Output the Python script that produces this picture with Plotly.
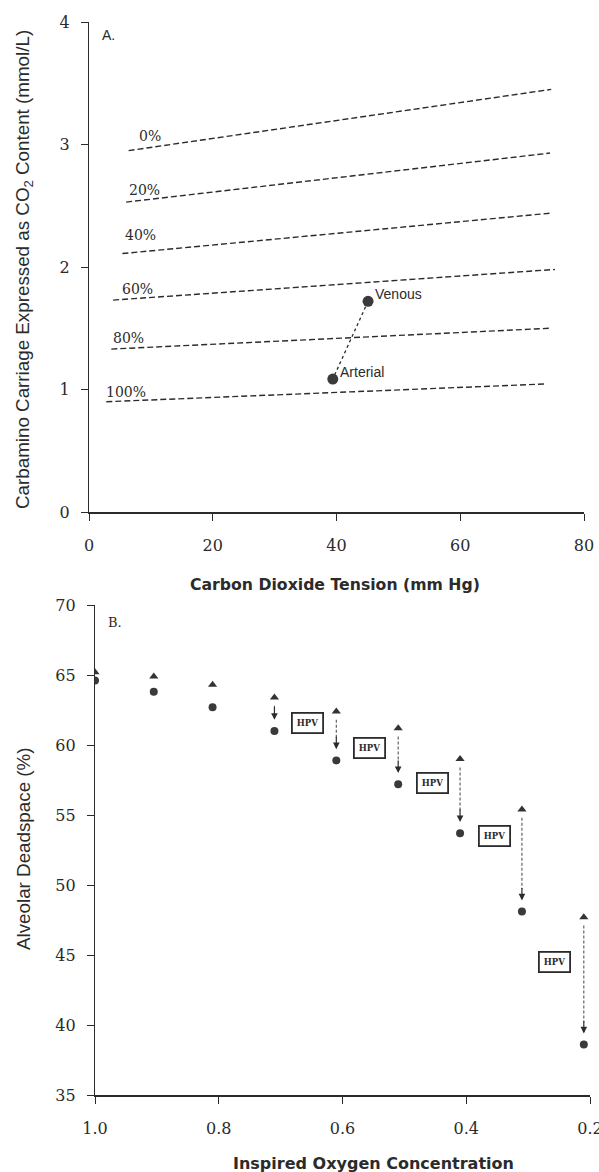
import plotly.graph_objects as go

# ---------------- Panel A data ----------------
sat_labels = ["0%", "20%", "40%", "60%", "80%", "100%"]
line_x_start = [6.4, 6.0, 5.4, 3.9, 3.6, 2.8]
line_x_end = [74.7, 74.5, 74.7, 75.3, 74.5, 73.7]
line_y_start = [2.95, 2.53, 2.11, 1.73, 1.33, 0.90]
line_y_end = [3.45, 2.93, 2.44, 1.98, 1.50, 1.045]
label_x = [9.8, 9.0, 8.3, 7.8, 6.4, 5.9]
label_y = [3.07, 2.63, 2.26, 1.82, 1.42, 0.98]

blood_names = ["Venous", "Arterial"]
blood_pco2 = [45.1, 39.4]
blood_content = [1.72, 1.085]

# ---------------- Panel B data ----------------
fio2 = [1.0, 0.905, 0.81, 0.71, 0.61, 0.51, 0.41, 0.31, 0.21]
deadspace_tri = [65.2, 64.9, 64.3, 63.4, 62.4, 61.2, 59.0, 55.4, 47.7]
deadspace_circ = [64.6, 63.8, 62.7, 61.0, 58.9, 57.2, 53.7, 48.1, 38.6]
arrow_from_index = 3  # arrows drawn for FIO2 = 0.7 ... 0.21
hpv_x = [0.657, 0.556, 0.455, 0.355, 0.257]
hpv_y = [61.6, 59.8, 57.3, 53.5, 44.5]

A_xticks = [0, 20, 40, 60, 80]
A_yticks = [0, 1, 2, 3, 4]
B_xticks = [1.0, 0.8, 0.6, 0.4, 0.2]
B_xticktext = ["1.0", "0.8", "0.6", "0.4", "0.2"]
B_yticks = [35, 40, 45, 50, 55, 60, 65, 70]

INK = "#2b2b2b"
W, H = 599, 1172

fig = go.Figure()

# Panel A dashed iso-saturation lines
for i, lab in enumerate(sat_labels):
    fig.add_trace(go.Scatter(
        x=[line_x_start[i], line_x_end[i]], y=[line_y_start[i], line_y_end[i]],
        mode="lines", line=dict(color=INK, width=1.4, dash="6px,3px"),
        xaxis="x", yaxis="y", showlegend=False, hoverinfo="skip"))
    fig.add_annotation(x=label_x[i], y=label_y[i], xref="x", yref="y",
                       text=lab, showarrow=False, xanchor="center", yanchor="middle",
                       font=dict(family="DejaVu Serif", size=14, color=INK))

# Arterial–venous dotted connector and points
fig.add_trace(go.Scatter(
    x=blood_pco2, y=blood_content, mode="lines+markers",
    line=dict(color=INK, width=1.3, dash="dot"),
    marker=dict(size=11, color="#3a3a3a", symbol="circle"),
    xaxis="x", yaxis="y", showlegend=False, hoverinfo="skip"))
for name, px, py in zip(blood_names, blood_pco2, blood_content):
    fig.add_annotation(x=px, y=py, xref="x", yref="y", text=name,
                       showarrow=False, xanchor="left", yanchor="bottom",
                       xshift=5, yshift=-3,
                       font=dict(family="Liberation Sans", size=14, color=INK))

# Panel B arrows (dashed shafts)
ax_, ay_ = [], []
for i in range(arrow_from_index, len(fio2)):
    ax_ += [fio2[i], fio2[i], None]
    ay_ += [deadspace_tri[i] - 0.6, deadspace_circ[i] + 1.6, None]
fig.add_trace(go.Scatter(
    x=ax_, y=ay_, mode="lines",
    line=dict(color="#555555", width=1.1, dash="3px,2px"),
    xaxis="x2", yaxis="y2", showlegend=False, hoverinfo="skip"))
for i in range(arrow_from_index, len(fio2)):
    fig.add_annotation(x=fio2[i], y=deadspace_circ[i] + 0.8,
                       ax=fio2[i], ay=deadspace_circ[i] + 1.8,
                       xref="x2", yref="y2", axref="x2", ayref="y2",
                       text="", showarrow=True, arrowhead=2, arrowsize=1.1,
                       arrowwidth=1.2, arrowcolor=INK)

fig.add_trace(go.Scatter(
    x=fio2, y=deadspace_tri, mode="markers",
    marker=dict(symbol="triangle-up", size=8, color="#333333"),
    xaxis="x2", yaxis="y2", showlegend=False, hoverinfo="skip"))
fig.add_trace(go.Scatter(
    x=fio2, y=deadspace_circ, mode="markers",
    marker=dict(symbol="circle", size=8, color="#3a3a3a"),
    xaxis="x2", yaxis="y2", showlegend=False, hoverinfo="skip"))

for hx, hy in zip(hpv_x, hpv_y):
    fig.add_annotation(x=hx, y=hy, xref="x2", yref="y2", text="<b>HPV</b>",
                       showarrow=False, bordercolor=INK, borderwidth=1.8,
                       borderpad=4, bgcolor="white", xanchor="center", yanchor="middle",
                       font=dict(family="DejaVu Serif", size=8.5, color=INK))

def paper_text(px, py, text, font, angle=0):
    fig.add_annotation(x=px / W, y=1 - py / H, xref="paper", yref="paper",
                       text=text, textangle=angle, showarrow=False,
                       xanchor="center", yanchor="middle", font=font)

# panel letters
paper_text(108, 35, "A.", dict(family="Liberation Sans", size=14, color=INK))
paper_text(115, 622, "B.", dict(family="DejaVu Serif", size=13, color=INK))

# axis titles
paper_text(24, 270, "Carbamino Carriage Expressed as CO<sub>2</sub> Content (mmol/L)",
           dict(family="Liberation Sans", size=18.8, color=INK), -90)
paper_text(335, 585, "<b>Carbon Dioxide Tension (mm Hg)</b>",
           dict(family="DejaVu Sans", size=15.7, color=INK))
paper_text(23, 849, "Alveolar Deadspace (%)",
           dict(family="Liberation Sans", size=18.8, color=INK), -90)
paper_text(374, 1163, "<b>Inspired Oxygen Concentration</b>",
           dict(family="DejaVu Sans", size=16, color=INK))

tickfont = dict(family="DejaVu Serif", size=16, color=INK)
common = dict(showgrid=False, zeroline=False, showline=True, linecolor=INK,
              ticks="outside", ticklen=7, tickwidth=1.2, tickcolor=INK,
              tickfont=tickfont, automargin=False, ticklabeloverflow="allow")

fig.update_layout(
    width=W, height=H,
    margin=dict(l=0, r=0, t=0, b=0, autoexpand=False),
    paper_bgcolor="white", plot_bgcolor="white",
    showlegend=False,
    xaxis=dict(domain=[89 / W, 584 / W], range=[0, 80], tickvals=A_xticks,
               anchor="y", linewidth=2.2, ticklabelstandoff=11, **common),
    yaxis=dict(domain=[1 - 512 / H, 1 - 22 / H], range=[0, 4], tickvals=A_yticks,
               anchor="x", linewidth=1.3, ticklabelstandoff=8, **common),
    xaxis2=dict(domain=[95 / W, 590 / W], range=[1.0, 0.2], tickvals=B_xticks,
                ticktext=B_xticktext, anchor="y2", linewidth=2.2,
                ticklabelstandoff=11, **common),
    yaxis2=dict(domain=[1 - 1095 / H, 1 - 605 / H], range=[35, 70], tickvals=B_yticks,
                anchor="x2", linewidth=1.3, ticklabelstandoff=8, **common),
)

fig.write_html("out.html",
               config={"displayModeBar": False},
               post_script="document.body.style.margin='0px';"
                           "document.body.style.overflow='hidden';")
